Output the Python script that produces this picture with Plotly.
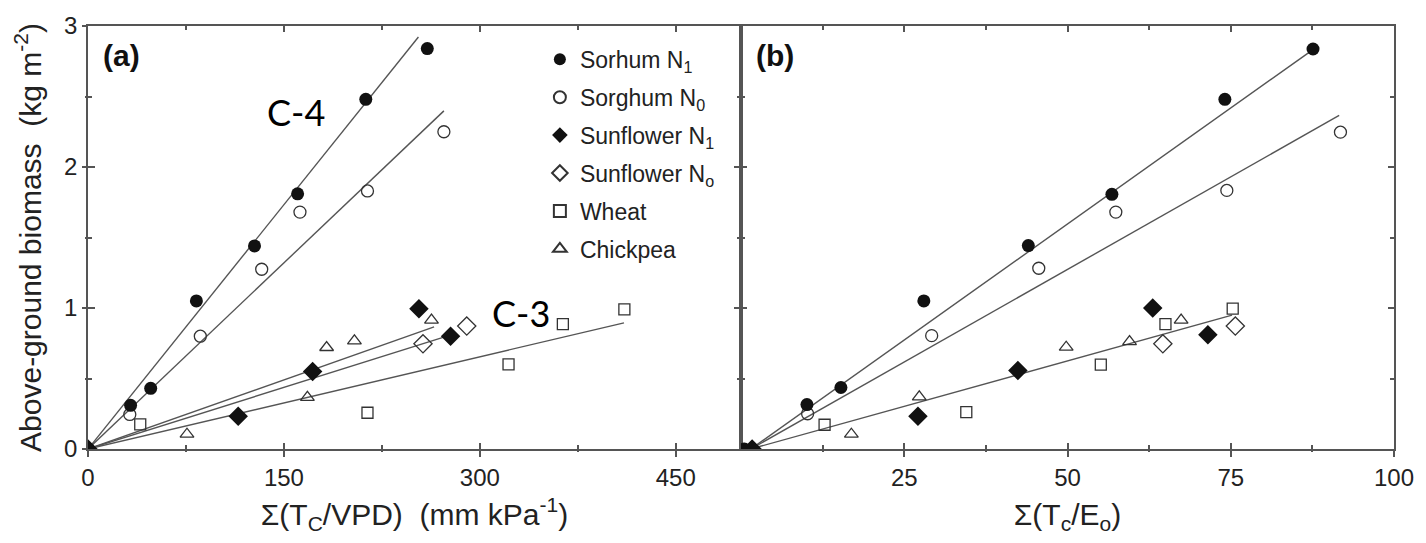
import plotly.graph_objects as go

# ---- panel (a): biomass vs cumulative transpiration / VPD ----
series_names = ["Sorhum N<sub>1</sub>", "Sorghum N<sub>0</sub>", "Sunflower N<sub>1</sub>",
                "Sunflower N<sub>o</sub>", "Wheat", "Chickpea"]

a_sorghum_n1_x = [0, 32.6, 48, 83, 127.5, 160.5, 212.7, 259.8]
a_sorghum_n1_y = [0, 0.31, 0.43, 1.05, 1.44, 1.81, 2.48, 2.84]
a_sorghum_n0_x = [32, 86, 133, 162.3, 214, 272.5]
a_sorghum_n0_y = [0.245, 0.80, 1.275, 1.68, 1.83, 2.25]
a_sunflower_n1_x = [0, 115, 172, 253.4, 277.6]
a_sunflower_n1_y = [0, 0.233, 0.55, 0.995, 0.80]
a_sunflower_n0_x = [256.5, 290]
a_sunflower_n0_y = [0.746, 0.872]
a_wheat_x = [40, 214, 322, 363.6, 410.7]
a_wheat_y = [0.175, 0.257, 0.60, 0.886, 0.99]
a_chickpea_x = [75.8, 168, 182.7, 204, 263]
a_chickpea_y = [0.105, 0.366, 0.72, 0.767, 0.914]

# fitted lines through the origin: slope and x extent
a_fit_slope = [0.01155, 0.0088, 0.00327, 0.00291, 0.00218]
a_fit_xend = [253, 272.5, 265, 274.3, 410.4]

# ---- panel (b): biomass vs cumulative transpiration / pan evaporation ----
b_sorghum_n1_x = [0.5, 10.1, 15.3, 28.0, 44.0, 56.8, 74.1, 87.6]
b_sorghum_n1_y = [0, 0.315, 0.436, 1.05, 1.443, 1.806, 2.48, 2.837]
b_sorghum_n0_x = [10.2, 29.2, 45.6, 57.4, 74.4, 91.8]
b_sorghum_n0_y = [0.25, 0.804, 1.282, 1.68, 1.834, 2.247]
b_sunflower_n1_x = [1.7, 27.1, 42.4, 63.05, 71.5]
b_sunflower_n1_y = [0, 0.233, 0.557, 1.0, 0.81]
b_sunflower_n0_x = [64.6, 75.7]
b_sunflower_n0_y = [0.746, 0.872]
b_wheat_x = [12.8, 34.5, 55.1, 65.0, 75.3]
b_wheat_y = [0.172, 0.261, 0.599, 0.886, 0.995]
b_chickpea_x = [16.9, 27.3, 49.8, 59.5, 67.4]
b_chickpea_y = [0.105, 0.37, 0.722, 0.762, 0.914]

b_fit_x0 = 1.5
b_fit_slope = [0.0329, 0.02626, 0.01288]
b_fit_xend = [87.0, 91.6, 75.2]

a_xticks = [0, 150, 300, 450]
a_xminor = [75, 225, 375]
b_xticks = [25, 50, 75, 100]
b_xminor = [12.5, 37.5, 62.5, 87.5]
yticks = [0, 1, 2, 3]
yminor = [0.5, 1.5, 2.5]

FONT = "Liberation Sans, Arial, Helvetica, sans-serif"
AXIS = "#555555"
LINE = "#555555"
INK = "#111111"

styles = [
    dict(symbol="circle", size=13, color=INK, line=dict(width=0)),
    dict(symbol="circle-open", size=12, color="#333333", line=dict(width=1.3)),
    dict(symbol="diamond", size=15, color=INK, line=dict(width=0)),
    dict(symbol="diamond-open", size=14, color="#333333", line=dict(width=1.3)),
    dict(symbol="square-open", size=11, color="#333333", line=dict(width=1.3)),
    dict(symbol="triangle-up-open", size=12, color="#333333", line=dict(width=1.3)),
]

fig = go.Figure()

# regression lines, drawn first so markers sit on top
for s, xe in zip(a_fit_slope, a_fit_xend):
    fig.add_trace(go.Scatter(x=[0, xe], y=[0, s * xe], mode="lines",
                             line=dict(color=LINE, width=1.4), showlegend=False,
                             hoverinfo="skip", xaxis="x", yaxis="y"))
for s, xe in zip(b_fit_slope, b_fit_xend):
    fig.add_trace(go.Scatter(x=[b_fit_x0, xe], y=[0, s * (xe - b_fit_x0)], mode="lines",
                             line=dict(color=LINE, width=1.4), showlegend=False,
                             hoverinfo="skip", xaxis="x2", yaxis="y2"))

a_sets = [(a_sorghum_n1_x, a_sorghum_n1_y), (a_sorghum_n0_x, a_sorghum_n0_y),
          (a_sunflower_n1_x, a_sunflower_n1_y), (a_sunflower_n0_x, a_sunflower_n0_y),
          (a_wheat_x, a_wheat_y), (a_chickpea_x, a_chickpea_y)]
b_sets = [(b_sorghum_n1_x, b_sorghum_n1_y), (b_sorghum_n0_x, b_sorghum_n0_y),
          (b_sunflower_n1_x, b_sunflower_n1_y), (b_sunflower_n0_x, b_sunflower_n0_y),
          (b_wheat_x, b_wheat_y), (b_chickpea_x, b_chickpea_y)]

# open symbols first, filled symbols on top
order = [4, 5, 1, 3, 2, 0]
for i in order:
    xs, ys = a_sets[i]
    fig.add_trace(go.Scatter(x=xs, y=ys, mode="markers", name=series_names[i],
                             marker=styles[i], legendrank=i + 1, legendgroup=f"s{i}",
                             xaxis="x", yaxis="y"))
for i in order:
    xs, ys = b_sets[i]
    fig.add_trace(go.Scatter(x=xs, y=ys, mode="markers", name=series_names[i],
                             marker=styles[i], showlegend=False, legendgroup=f"s{i}",
                             xaxis="x2", yaxis="y2"))

# empty traces that carry the overlay axes used for inward ticks
fig.add_trace(go.Scatter(x=[], y=[], xaxis="x3", yaxis="y3", showlegend=False))
fig.add_trace(go.Scatter(x=[], y=[], xaxis="x4", yaxis="y4", showlegend=False))

tickfont = dict(family=FONT, size=24, color="#222222")
titlefont = dict(family=FONT, size=30, color="#222222")

base = dict(showline=True, linecolor=AXIS, linewidth=1.6, showgrid=False, zeroline=False,
            tickcolor=AXIS, tickwidth=1.5, tickfont=tickfont)

fig.update_layout(
    width=1426, height=543,
    margin=dict(l=88, r=28, t=20, b=94),
    paper_bgcolor="white", plot_bgcolor="white",
    showlegend=True,
    legend=dict(x=0.346, y=0.972, xanchor="left", yanchor="top",
                font=dict(family=FONT, size=23, color="#222222"),
                bgcolor="rgba(0,0,0,0)", tracegroupgap=5, itemsizing="constant",
                traceorder="grouped"),
    xaxis=dict(base, domain=[0, 0.5], anchor="y", range=[0, 500],
               tickmode="array", tickvals=a_xticks, ticks="outside", ticklen=6,
               minor=dict(tickvals=a_xminor, ticks="outside", ticklen=1, tickcolor=AXIS),
               mirror=True,
               title=dict(text="Σ(T<sub>C</sub>/VPD)\u00a0\u00a0(mm kPa<sup>-1</sup>)",
                          font=titlefont, standoff=14)),
    yaxis=dict(base, domain=[0, 1], anchor="x", range=[0, 3],
               tickmode="array", tickvals=yticks, ticks="outside", ticklen=4,
               minor=dict(tickvals=yminor, ticks="outside", ticklen=1, tickcolor=AXIS),
               mirror=True,
               title=dict(text="Above-ground biomass\u00a0\u00a0(kg m<sup>-2</sup>)",
                          font=titlefont, standoff=14)),
    xaxis2=dict(base, domain=[0.5, 1], anchor="y2", range=[0, 100],
                tickmode="array", tickvals=b_xticks, ticks="outside", ticklen=6,
                minor=dict(tickvals=b_xminor, ticks="outside", ticklen=1, tickcolor=AXIS),
                mirror=True,
                title=dict(text="Σ(T<sub>c</sub>/E<sub>o</sub>)", font=titlefont, standoff=14)),
    yaxis2=dict(base, domain=[0, 1], anchor="x2", range=[0, 3],
                tickmode="array", tickvals=yticks, ticks="", showticklabels=False,
                mirror=True),
    xaxis3=dict(base, overlaying="x", anchor="y3", range=[0, 500],
                tickmode="array", tickvals=a_xticks, ticks="inside", ticklen=6,
                minor=dict(tickvals=a_xminor, ticks="inside", ticklen=4, tickcolor=AXIS),
                mirror="ticks", showticklabels=False),
    yaxis3=dict(base, overlaying="y", anchor="x3", range=[0, 3],
                tickmode="array", tickvals=yticks, ticks="inside", ticklen=7,
                minor=dict(tickvals=yminor, ticks="inside", ticklen=4, tickcolor=AXIS),
                mirror="ticks", showticklabels=False),
    xaxis4=dict(base, overlaying="x2", anchor="y4", range=[0, 100],
                tickmode="array", tickvals=b_xticks, ticks="inside", ticklen=6,
                minor=dict(tickvals=b_xminor, ticks="inside", ticklen=4, tickcolor=AXIS),
                mirror="ticks", showticklabels=False),
    yaxis4=dict(base, overlaying="y2", anchor="x4", range=[0, 3],
                tickmode="array", tickvals=yticks, ticks="inside", ticklen=6,
                minor=dict(tickvals=yminor, ticks="inside", ticklen=4, tickcolor=AXIS),
                mirror="ticks", showticklabels=False),
)

# panel letters
fig.add_annotation(text="<b>(a)</b>", xref="x domain", yref="y domain", x=0.02, y=0.975,
                   xanchor="left", yanchor="top", showarrow=False,
                   font=dict(family=FONT, size=30, color="#111111"))
fig.add_annotation(text="<b>(b)</b>", xref="x2 domain", yref="y2 domain", x=0.02, y=0.975,
                   xanchor="left", yanchor="top", showarrow=False,
                   font=dict(family=FONT, size=30, color="#111111"))

# photosynthetic pathway labels
path_labels = ["C-4", "C-3"]
path_x = [159.5, 331.7]
path_y = [2.39, 0.965]
for t, px, py in zip(path_labels, path_x, path_y):
    fig.add_annotation(text=t, x=px, y=py, xref="x", yref="y", showarrow=False,
                       font=dict(family="Lato, Noto Sans, sans-serif", size=36,
                                 color="#000000", weight=400))

fig.write_html("out.html")
